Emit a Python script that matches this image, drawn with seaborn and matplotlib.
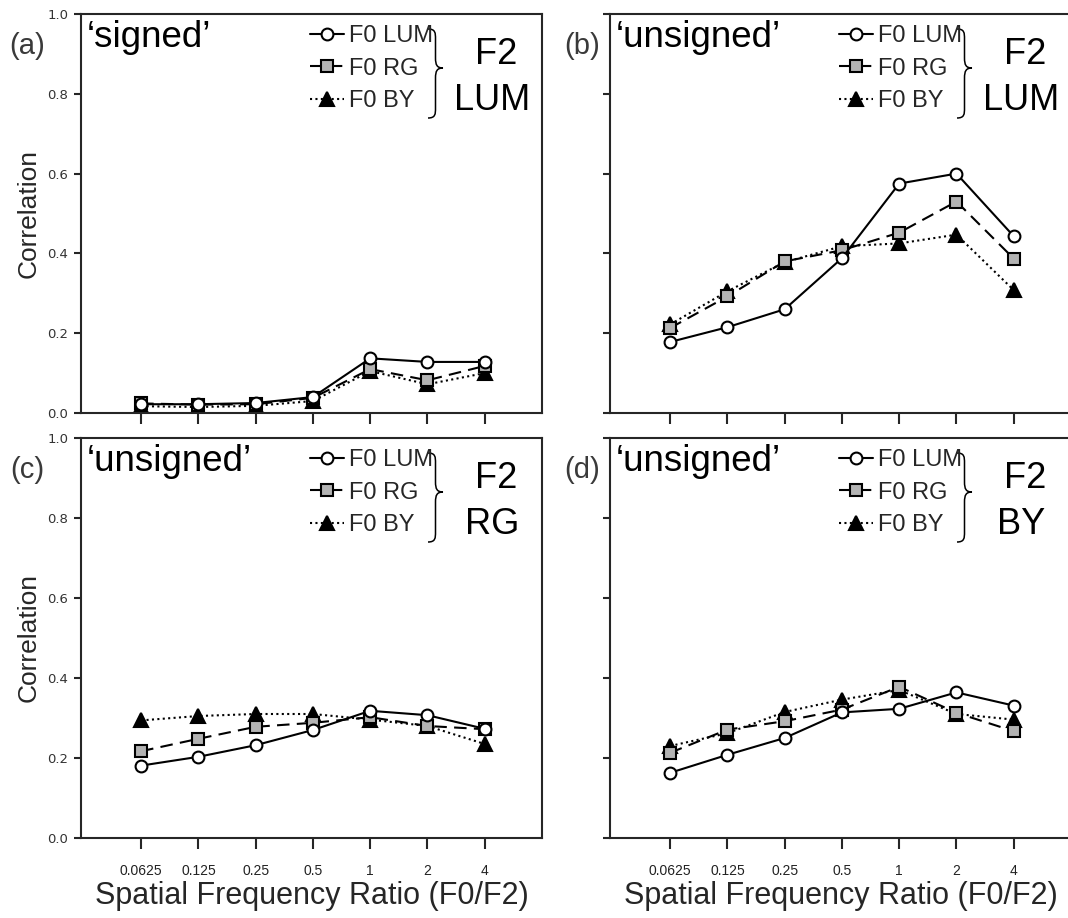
import numpy as np
import matplotlib
matplotlib.use("Agg")
import matplotlib.pyplot as plt
import seaborn as sns
from matplotlib import font_manager
from matplotlib.path import Path
from matplotlib.patches import PathPatch
from matplotlib.transforms import Affine2D

# ---- data -------------------------------------------------------------
ratios = ["0.0625", "0.125", "0.25", "0.5", "1", "2", "4"]
series_names = ["F0 LUM", "F0 RG", "F0 BY"]

# (a) signed correlation, F2 = LUM
a_lum = [0.022, 0.022, 0.025, 0.040, 0.137, 0.128, 0.128]
a_rg = [0.024, 0.021, 0.022, 0.038, 0.110, 0.082, 0.118]
a_by = [0.017, 0.015, 0.018, 0.030, 0.105, 0.072, 0.100]

# (b) unsigned correlation, F2 = LUM
b_lum = [0.178, 0.215, 0.260, 0.388, 0.575, 0.600, 0.443]
b_rg = [0.213, 0.292, 0.380, 0.408, 0.452, 0.530, 0.387]
b_by = [0.222, 0.305, 0.378, 0.418, 0.425, 0.447, 0.308]

# (c) unsigned correlation, F2 = RG
c_lum = [0.181, 0.203, 0.232, 0.270, 0.318, 0.307, 0.273]
c_rg = [0.217, 0.248, 0.278, 0.288, 0.302, 0.280, 0.272]
c_by = [0.294, 0.305, 0.310, 0.310, 0.296, 0.280, 0.235]

# (d) unsigned correlation, F2 = BY
d_lum = [0.163, 0.208, 0.250, 0.314, 0.323, 0.364, 0.331]
d_rg = [0.213, 0.271, 0.292, 0.321, 0.378, 0.313, 0.267]
d_by = [0.230, 0.262, 0.315, 0.346, 0.370, 0.310, 0.296]

panel_tags = ["(a)", "(b)", "(c)", "(d)"]
panel_modes = ["\u2018signed\u2019", "\u2018unsigned\u2019", "\u2018unsigned\u2019", "\u2018unsigned\u2019"]
panel_targets = ["LUM", "LUM", "RG", "BY"]
panel_values = [(a_lum, a_rg, a_by), (b_lum, b_rg, b_by),
                (c_lum, c_rg, c_by), (d_lum, d_rg, d_by)]

y_ticks = [0.0, 0.2, 0.4, 0.6, 0.8, 1.0]

# ---- styling ----------------------------------------------------------
sns.set_style("ticks")
plt.rcParams["font.family"] = ["Liberation Sans", "DejaVu Sans"]
plt.rcParams["axes.linewidth"] = 1.5

installed = {f.name for f in font_manager.fontManager.ttflist}
if "Liberation Sans Narrow" in installed:
    narrow = ["Liberation Sans Narrow", "DejaVu Sans"]
    xlab_size, ylab_size, xtick_size = 27.5, 22.5, 11.5
else:
    narrow = ["Liberation Sans", "DejaVu Sans"]
    xlab_size, ylab_size, xtick_size = 22, 19, 10

W, H = 1068, 918
fig = plt.figure(figsize=(W / 100, H / 100), dpi=100)

# axes boxes in pixels: left, top, width, height
boxes = [(81, 14, 461, 399), (610, 14, 461, 399),
         (81, 438, 461, 400), (610, 438, 461, 400)]

line_styles = [
    dict(linestyle="-", marker="o", markersize=8.5, markerfacecolor="white", zorder=4),
    dict(linestyle=(0, (6, 3.5)), marker="s", markersize=8.5, markerfacecolor="#b3b3b3", zorder=3),
    dict(linestyle=(0, (1, 1.6)), marker="^", markersize=9.5, markerfacecolor="black", zorder=2),
]

pos = np.arange(len(ratios))


def draw_brace(ax, tr, x, top, mid, bottom, w=15):
    h = w / 2
    verts = [(x, top),
             (x + h, top), (x + h, top + 4), (x + h, top + 10),
             (x + h, mid - 10),
             (x + h, mid - 3), (x + w * 0.6, mid), (x + w, mid),
             (x + w * 0.6, mid), (x + h, mid + 3), (x + h, mid + 10),
             (x + h, bottom - 10),
             (x + h, bottom - 4), (x + h, bottom), (x, bottom)]
    codes = ([Path.MOVETO] + [Path.CURVE4] * 3 + [Path.LINETO] + [Path.CURVE4] * 6
             + [Path.LINETO] + [Path.CURVE4] * 3)
    patch = PathPatch(Path(verts, codes), transform=tr, fill=False,
                      edgecolor="black", linewidth=1.1, clip_on=False)
    ax.add_artist(patch)


for i, (box, tag, mode, target, vals) in enumerate(
        zip(boxes, panel_tags, panel_modes, panel_targets, panel_values)):
    l, t, w, h = box
    ax = fig.add_axes([l / W, 1 - (t + h) / H, w / W, h / H])
    # pixel offsets measured from the axes' top-left corner, y downwards
    tr = Affine2D().scale(1, -1).translate(l, H - t)

    for name, series, st in zip(series_names, vals, line_styles):
        sns.lineplot(x=pos, y=series, ax=ax, color="black", linewidth=1.5,
                     markeredgecolor="black", markeredgewidth=1.5,
                     label=name, **st)

    ax.set_xlim(-1.05, 7.0)
    ax.set_ylim(0, 1.0)
    ax.set_xticks(pos)
    ax.set_yticks(y_ticks)
    for side in ["top", "right", "left", "bottom"]:
        ax.spines[side].set_visible(True)
        ax.spines[side].set_linewidth(1.5)
    ax.tick_params(axis="x", direction="out", length=8, width=1.5, pad=11,
                   labelsize=xtick_size, labelcolor="#222222")
    ax.tick_params(axis="y", direction="out", length=5, width=1.5, pad=4,
                   labelsize=9.5, labelcolor="#333333")

    bottom_row = i >= 2
    left_col = i % 2 == 0
    if bottom_row:
        ax.set_xticklabels(ratios)
        for lab in ax.get_xticklabels():
            lab.set_family(narrow)
        ax.set_xlabel("Spatial Frequency Ratio (F0/F2)", fontsize=xlab_size,
                      family=narrow)
        ax.xaxis.set_label_coords(0.5, -0.108)
    else:
        ax.set_xticklabels([])
        ax.set_xlabel("")
    if left_col:
        ax.set_yticklabels([f"{v:.1f}" for v in y_ticks])
        for lab in ax.get_yticklabels():
            lab.set_family(["DejaVu Sans"])
        ax.set_ylabel("Correlation", fontsize=ylab_size, family=narrow, labelpad=5)
    else:
        ax.set_yticklabels([])
        ax.set_ylabel("")

    # panel tag and correlation type
    tag_x = -54 if left_col else -28
    ax.text(tag_x, 32, tag, transform=tr, ha="center", va="center",
            fontsize=21, color="#3a3a3a", clip_on=False)
    ax.text(6, 33, mode, transform=tr, ha="left", va="baseline",
            fontsize=26.5, color="black")

    # legend of the three F0 conditions
    handles, labels = ax.get_legend_handles_labels()
    ax.legend(handles, labels, loc="upper left", bbox_to_anchor=(229, 11),
              bbox_transform=tr, frameon=False, fontsize=17,
              handlelength=1.45, handletextpad=0.2, labelspacing=0.45,
              borderpad=0, borderaxespad=0, numpoints=1)

    # brace grouping the legend, followed by the F2 condition
    draw_brace(ax, tr, 347, 15, 54, 104)
    ax.text(415, 41, "F2", transform=tr, ha="center", va="center",
            fontsize=26, color="black")
    ax.text(411, 87, target, transform=tr, ha="center", va="center",
            fontsize=26, color="black")

fig.savefig("out.png", dpi=100)
